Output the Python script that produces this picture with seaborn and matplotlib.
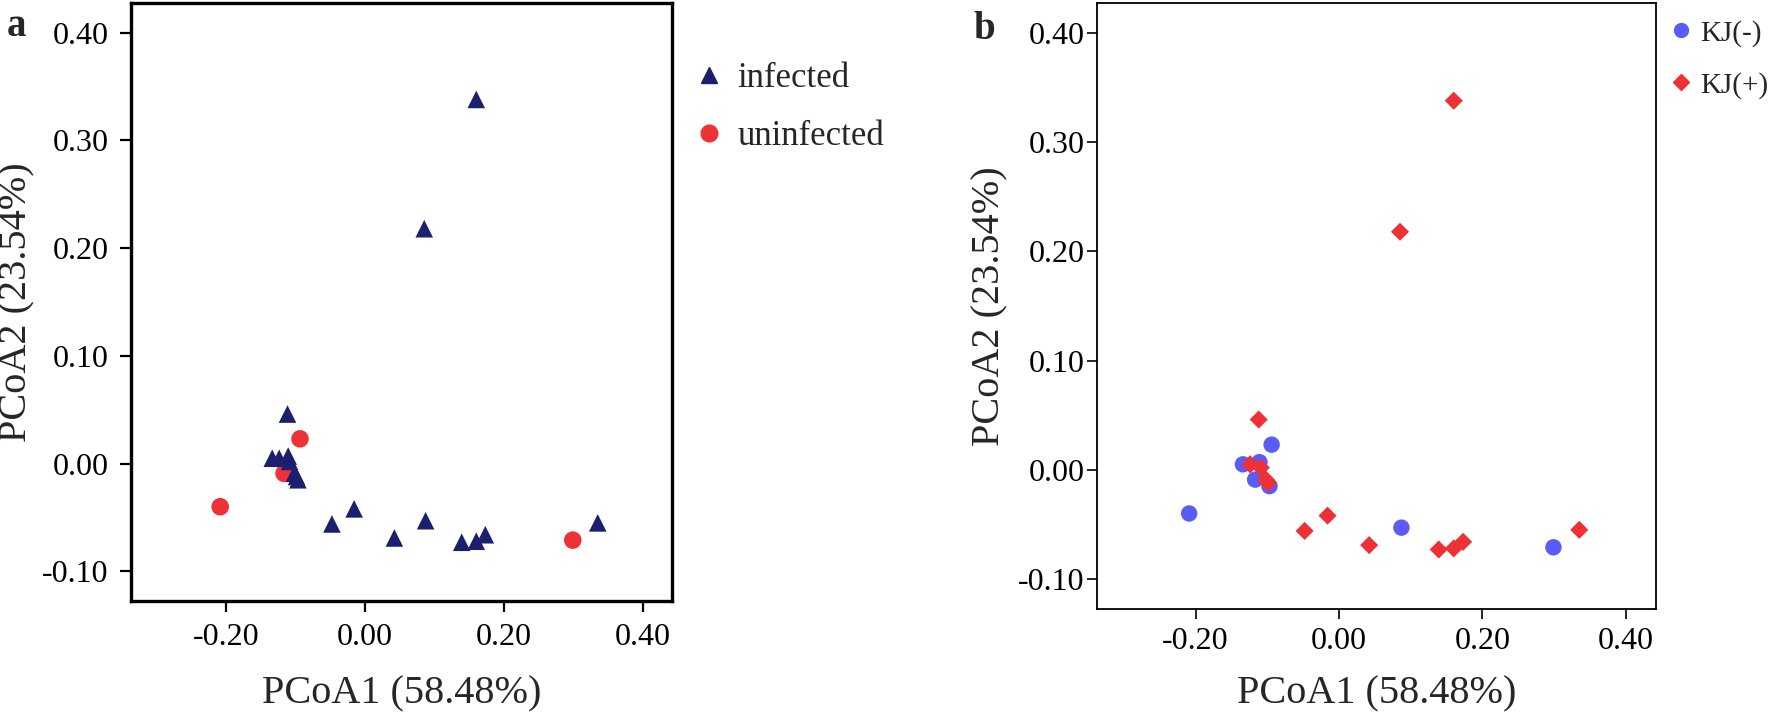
import matplotlib
matplotlib.use("Agg")
import matplotlib.pyplot as plt
from matplotlib.lines import Line2D
import seaborn as sns
import pandas as pd

# PCoA coordinates of the 22 samples
pc1 = [-0.094, -0.117, -0.209, 0.299,
       -0.134, -0.111, -0.097, 0.087,
       0.160, 0.085, -0.112, -0.124, -0.109, -0.102, -0.099,
       -0.048, -0.016, 0.042, 0.139, 0.160, 0.173, 0.335]
pc2 = [0.023, -0.009, -0.040, -0.071,
       0.005, 0.007, -0.015, -0.053,
       0.338, 0.218, 0.046, 0.005, 0.002, -0.009, -0.012,
       -0.056, -0.042, -0.069, -0.073, -0.072, -0.066, -0.055]
infection = ["uninfected"] * 4 + ["infected"] * 18
kj_status = ["KJ(-)"] * 8 + ["KJ(+)"] * 14

x_ticks = [-0.20, 0.00, 0.20, 0.40]
y_ticks = [-0.10, 0.00, 0.10, 0.20, 0.30, 0.40]
x_label = "PCoA1 (58.48%)"
y_label = "PCoA2 (23.54%)"

df = pd.DataFrame({"PCoA1": pc1, "PCoA2": pc2,
                   "infection": infection, "KJ": kj_status})

sns.set_style("white")
plt.rcParams["font.family"] = ["Liberation Serif", "DejaVu Serif"]
plt.rcParams["axes.unicode_minus"] = False

navy = "#1b1f6d"
red = "#ee3136"
blue = "#5a5cf7"

fig = plt.figure(figsize=(17.72, 7.14), dpi=100)
W, H = 1772, 714


def px_axes(left, top, right, bottom):
    return fig.add_axes([left / W, 1 - bottom / H, (right - left) / W, (bottom - top) / H])


def style_axes(ax, spine_w, tick_len, tick_w, pad_x, pad_y):
    ax.set_xlim(-0.3375, 0.442)
    ax.set_ylim(-0.1275, 0.4275)
    ax.set_xticks(x_ticks)
    ax.set_yticks(y_ticks)
    ax.set_xticklabels([f"{v:.2f}" for v in x_ticks])
    ax.set_yticklabels([f"{v:.2f}" for v in y_ticks])
    for sp in ax.spines.values():
        sp.set_visible(True)
        sp.set_linewidth(spine_w)
        sp.set_color("black")
    ax.tick_params(axis="both", which="both", direction="out", length=tick_len,
                   width=tick_w, color="black", labelsize=23, labelcolor="black",
                   bottom=True, left=True, top=False, right=False)
    ax.tick_params(axis="x", pad=pad_x)
    ax.tick_params(axis="y", pad=pad_y)
    ax.set_xlabel(x_label, fontsize=29)
    ax.set_ylabel(y_label, fontsize=29)


# ---- panel a ----
ax1 = px_axes(131, 3, 672, 601)
sns.scatterplot(data=df, x="PCoA1", y="PCoA2", hue="infection", style="infection",
                hue_order=["infected", "uninfected"],
                palette={"infected": navy, "uninfected": red},
                markers={"infected": "^", "uninfected": "o"},
                size="infection", sizes={"infected": 160, "uninfected": 160},
                linewidth=0, alpha=1, legend=False, ax=ax1)
style_axes(ax1, 2.4, 8, 1.6, 8, 8)
ax1.xaxis.set_label_coords(0.5, -0.125)
ax1.yaxis.set_label_coords(-0.176, 0.5)

handles_a = [Line2D([], [], marker="^", ls="", color=navy, markersize=12),
             Line2D([], [], marker="o", ls="", color=red, markersize=12)]
ax1.legend(handles_a, ["infected", "uninfected"], loc="upper left",
           bbox_to_anchor=(692 / W, 1 - 62 / H), bbox_transform=fig.transFigure,
           frameon=False, fontsize=25, handlelength=1.0, handletextpad=0.3,
           labelspacing=0.72, borderaxespad=0, borderpad=0)
fig.text(7 / W, 1 - 36 / H, "a", fontsize=28, fontweight="bold", ha="left", va="baseline")

# ---- panel b ----
ax2 = px_axes(1097, 3, 1656, 609)
sns.scatterplot(data=df, x="PCoA1", y="PCoA2", hue="KJ", style="KJ",
                hue_order=["KJ(-)", "KJ(+)"],
                palette={"KJ(-)": blue, "KJ(+)": red},
                markers={"KJ(-)": "o", "KJ(+)": "D"},
                size="KJ", sizes={"KJ(-)": 140, "KJ(+)": 85},
                linewidth=0, alpha=1, legend=False, ax=ax2)
style_axes(ax2, 1.3, 7, 1.2, 6, 2)
ax2.xaxis.set_label_coords(0.5, -0.11)
ax2.yaxis.set_label_coords(-0.158, 0.5)

handles_b = [Line2D([], [], marker="o", ls="", color=blue, markersize=10),
             Line2D([], [], marker="D", ls="", color=red, markersize=8.5)]
ax2.legend(handles_b, ["KJ(-)", "KJ(+)"], loc="upper left",
           bbox_to_anchor=(1672 / W, 1 - 20 / H), bbox_transform=fig.transFigure,
           frameon=False, fontsize=21, handlelength=0.6, handletextpad=0.35,
           labelspacing=0.85, borderaxespad=0, borderpad=0)
fig.text(973 / W, 1 - 39 / H, "b", fontsize=28, fontweight="bold", ha="left", va="baseline")

fig.savefig("out.png", dpi=100, facecolor="white")
